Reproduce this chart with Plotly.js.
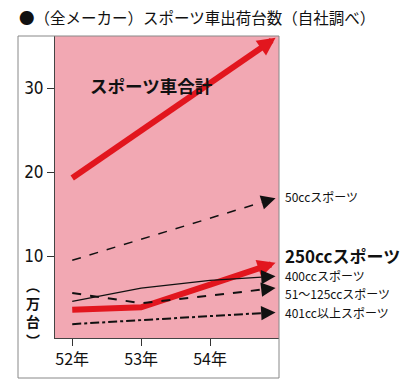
<!DOCTYPE html>
<html>
<head>
<meta charset="utf-8">
<script src="https://cdn.plot.ly/plotly-3.0.1.min.js"></script>
<style>html,body{margin:0;padding:0;background:#fff;}#chart{width:415px;height:385px;}</style>
</head>
<body>
<div id="chart"></div>
<script>
// ---- data (万台) ----
const years = [52, 53, 54, 54.95];
const tickYears = [52, 53, 54];
const tickLabels = ["52年", "53年", "54年"];
const totalSports = [19.3, 25.0, 30.5, 36.0];
const cc50 = [9.5, 12.0, 14.5, 16.9];
const cc250 = [3.6, 3.9, 6.6, 9.2];
const cc400 = [4.6, 6.2, 7.1, 7.6];
const cc51to125 = [5.6, 4.4, 5.3, 6.2];
const cc401up = [1.9, 2.4, 2.9, 3.3];
const seriesNames = ["スポーツ車合計", "50ccスポーツ", "250ccスポーツ", "400ccスポーツ", "51～125ccスポーツ", "401cc以上スポーツ"];

const RED = "#E2161E";
const JP = "'Noto Sans CJK JP', 'Noto Sans', sans-serif";

const series = [
  {y: totalSports, color: RED, width: 6, dash: "solid", back: 0.2, aw: 6, as: 0.6},
  {y: cc50, color: "#111", width: 1.5, dash: "dash", back: 0.2, aw: 1.6, as: 1.8},
  {y: cc250, color: RED, width: 6, dash: "solid", back: 0.2, aw: 6, as: 0.6},
  {y: cc400, color: "#111", width: 1.3, dash: "solid", back: 0.2, aw: 1.6, as: 1.8},
  {y: cc51to125, color: "#111", width: 2, dash: "dash", back: 0.2, aw: 1.8, as: 1.6},
  {y: cc401up, color: "#111", width: 2, dash: "dashdot", back: 0.2, aw: 1.8, as: 1.6}
];

const traces = [];
const annotations = [];
series.forEach((s, i) => {
  const n = years.length;
  const x1 = years[n - 2], x2 = years[n - 1];
  const y1 = s.y[n - 2], y2 = s.y[n - 1];
  const xb = x2 - s.back;
  const yb = y1 + (y2 - y1) * (xb - x1) / (x2 - x1);
  const tx = years.slice(0, n - 1).concat([xb]);
  const ty = s.y.slice(0, n - 1).concat([yb]);
  traces.push({
    x: tx, y: ty, type: "scatter", mode: "lines", name: seriesNames[i],
    line: {color: s.color, width: s.width, dash: s.dash}, hoverinfo: "skip"
  });
  annotations.push({
    x: x2, y: y2, xref: "x", yref: "y", ax: xb, ay: yb, axref: "x", ayref: "y",
    showarrow: true, arrowhead: 2, arrowsize: s.as, arrowwidth: s.aw, arrowcolor: s.color,
    text: "", standoff: 0
  });
});

// labels
annotations.push({xref: "paper", yref: "paper", x: (17 - 55) / 224, y: (338 - 17) / 302, xanchor: "left", yanchor: "middle",
  text: "●（全メーカー）スポーツ車出荷台数（自社調べ）", showarrow: false, font: {family: JP, size: 15.5, color: "#111"}});
annotations.push({xref: "paper", yref: "paper", x: (151 - 55) / 224, y: (338 - 85) / 302, xanchor: "center", yanchor: "middle",
  text: "<b>" + seriesNames[0] + "</b>", showarrow: false, font: {family: JP, size: 17.5, color: "#111"}});
const labelPos = [[1, 197, 12, false], [2, 255, 17, true], [3, 275, 12, false], [4, 293, 12, false], [5, 312, 12, false]];
labelPos.forEach(([i, py, fs, bold]) => {
  annotations.push({xref: "paper", yref: "paper", x: (283 - 55) / 224, y: (338 - py) / 302, xanchor: "left", yanchor: "middle",
    text: bold ? "<b>" + seriesNames[i] + "</b>" : seriesNames[i], showarrow: false, font: {family: JP, size: fs, color: "#111"}});
});
annotations.push({xref: "paper", yref: "paper", x: (33 - 55) / 224, y: (338 - 312) / 302, xanchor: "center", yanchor: "middle",
  text: "<b>︵<br>万<br>台<br>︶</b>", showarrow: false, font: {family: JP, size: 14, color: "#111"}});

const layout = {
  width: 415, height: 385,
  margin: {l: 55, r: 136, t: 36, b: 47, autoexpand: false},
  paper_bgcolor: "#ffffff",
  plot_bgcolor: "#F2A8B3",
  showlegend: false,
  xaxis: {
    range: [51.75, 55], tickvals: tickYears, ticktext: tickLabels,
    ticks: "outside", ticklen: 7, tickcolor: "#333", tickwidth: 1,
    showgrid: false, zeroline: false, showline: true, linecolor: "#444", linewidth: 1,
    tickfont: {family: JP, size: 16, color: "#111"}, fixedrange: true
  },
  yaxis: {
    range: [0.25, 36.2], tickvals: [10, 20, 30], ticktext: ["10", "20", "30"],
    ticks: "outside", ticklen: 7, tickcolor: "#333", tickwidth: 1,
    showgrid: false, zeroline: false, showline: true, linecolor: "#444", linewidth: 1,
    tickfont: {family: "'Liberation Sans Narrow', 'DejaVu Sans Condensed', sans-serif", size: 17, color: "#111"}, fixedrange: true
  },
  shapes: [{
    type: "rect", xref: "paper", yref: "paper", x0: (18 - 55) / 224, x1: 1, y0: (338 - 378) / 302, y1: 1,
    line: {color: "#888", width: 1}, fillcolor: "rgba(0,0,0,0)", layer: "above"
  }],
  annotations: annotations
};

Plotly.newPlot("chart", traces, layout, {displayModeBar: false, staticPlot: true});
</script>
</body>
</html>
